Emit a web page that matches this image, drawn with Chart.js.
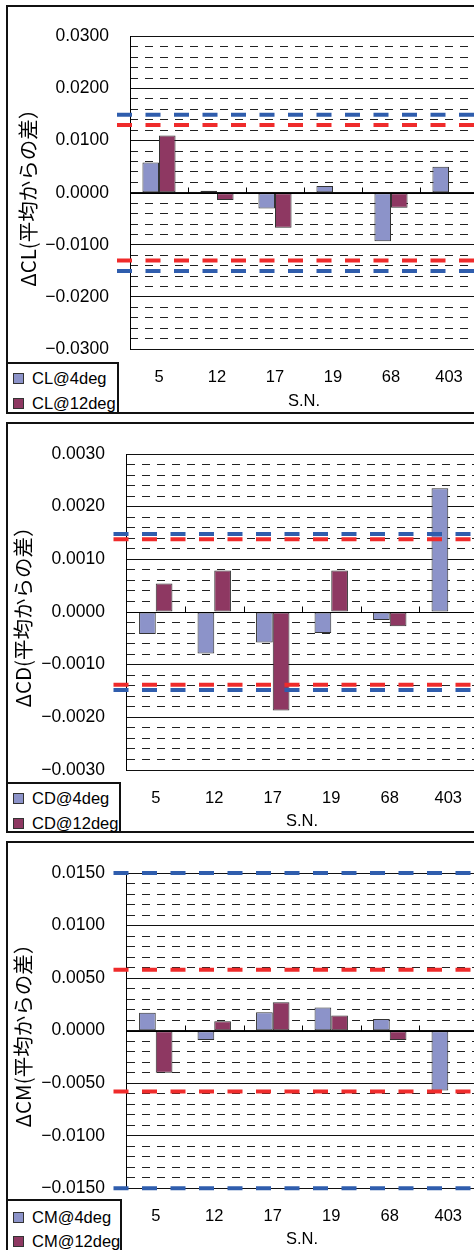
<!DOCTYPE html>
<html>
<head>
<meta charset="utf-8">
<script src="https://cdn.jsdelivr.net/npm/chart.js@4.4.1/dist/chart.umd.min.js"></script>
<style>
  html, body { margin: 0; padding: 0; width: 474px; height: 1250px; overflow: hidden; background: #fff; }
  .frame { position: absolute; left: 6px; width: 600px; border: 2px solid #111; box-sizing: border-box; }
  .panel { position: absolute; left: 0; width: 500px; }
  .legend { position: absolute; left: 6px; border: 2px solid #111; box-sizing: border-box; background: #fff;
            font-family: "Liberation Sans", Arial, sans-serif; font-size: 16.5px; color: #000; }
  .legend .item { position: absolute; left: 0; height: 20px; line-height: 20px; white-space: nowrap; }
  .legend .sw { position: absolute; left: 5px; top: 5px; width: 9px; height: 9px; border: 1px solid #333; }
  .legend .tx { position: absolute; left: 24px; top: 0; }
</style>
</head>
<body>
<script>
// categories (serial numbers)
const categories = ["5", "12", "17", "19", "68", "403"];

// ΔCL
const cl4deg = [0.0058, 0.0004, -0.0030, 0.0013, -0.0093, 0.0050];
const cl12deg = [0.0110, -0.0014, -0.0067, -0.0002, -0.0029, 0];
const clBlue = [0.015, -0.015];
const clRed = [0.013, -0.013];
const clRange = [-0.03, 0.03];
const clSteps = [0.01, 0.002];

// ΔCD
const cd4deg = [-0.00042, -0.00079, -0.00058, -0.00040, -0.00015, 0.00235];
const cd12deg = [0.00054, 0.00079, -0.00187, 0.00079, -0.00027, 0];
const cdBlue = [0.00148, -0.00148];
const cdRed = [0.00138, -0.00138];
const cdRange = [-0.003, 0.003];
const cdSteps = [0.001, 0.0002];

// ΔCM
const cm4deg = [0.0017, -0.0009, 0.00175, 0.0022, 0.0011, -0.0057];
const cm12deg = [-0.0040, 0.0009, 0.0027, 0.00145, -0.0009, 0];
const cmBlue = [0.015, -0.015];
const cmRed = [0.0058, -0.0058];
const cmRange = [-0.015, 0.015];
const cmSteps = [0.005, 0.001];

const C4 = "#8C93C9";
const C12 = "#8E3862";
const BLUE = "#2F5DAD";
const RED = "#EF2B2B";
const FONT = "'Liberation Sans', Arial, sans-serif";

const panels = [
  { title: "ΔCL(平均からの差）", names: ["CL@4deg", "CL@12deg"], a: cl4deg, b: cl12deg,
    blue: clBlue, red: clRed, range: clRange, steps: clSteps,
    top: 5, h: 409, frameH: 409, yW: 130, padTop: 22, padRight: 22, xH: 65, xPad: 19, snPad: 2.4, yPad: 21, titlePad: 16,
    lgTop: 362, lgH: 52, lgW: 113, rows: [4, 29] },
  { title: "ΔCD(平均からの差）", names: ["CD@4deg", "CD@12deg"], a: cd4deg, b: cd12deg,
    blue: cdBlue, red: cdRed, range: cdRange, steps: cdSteps,
    top: 422, h: 411, frameH: 411, yW: 126.5, padTop: 22.3, padRight: 22.5, xH: 63, xPad: 18.5, snPad: 2, yPad: 21.5, titlePad: 10.5,
    lgTop: 782, lgH: 51, lgW: 115, rows: [4.3, 29] },
  { title: "ΔCM(平均からの差）", names: ["CM@4deg", "CM@12deg"], a: cm4deg, b: cm12deg,
    blue: cmBlue, red: cmRed, range: cmRange, steps: cmSteps,
    top: 841, h: 409, frameH: 430, yW: 126.5, padTop: 22.3, padRight: 22.5, xH: 61.7, xPad: 18.5, snPad: 1, yPad: 21.5, titlePad: 10.5,
    lgTop: 1199, lgH: 60, lgW: 116, rows: [5.7, 29.7] },
];

function makeTicks(min, max, step) {
  const n = Math.round((max - min) / step);
  const t = [];
  for (let i = 0; i <= n; i++) t.push({ value: +(min + i * step).toFixed(7) });
  return t;
}
function isMajor(v, step) {
  const r = v / step;
  return Math.abs(r - Math.round(r)) < 1e-6;
}
function fmt(v) {
  if (Math.abs(v) < 1e-12) return "0.0000";
  return (v < 0 ? "\u2212" : "") + Math.abs(v).toFixed(4);
}

// threshold lines + small ticks on the zero line
const limitLines = {
  id: "limitLines",
  afterDatasetsDraw(chart, args, opts) {
    const { ctx, chartArea } = chart;
    const y = chart.scales.y;
    const y0 = Math.round(y.getPixelForValue(0)) + 0.5;
    const n = chart.data.labels.length;
    ctx.save();
    ctx.strokeStyle = "#000";
    ctx.lineWidth = 1;
    ctx.beginPath();
    ctx.moveTo(chartArea.left, y0);
    ctx.lineTo(chartArea.right, y0);
    ctx.stroke();
    for (let k = 1; k < n; k++) {
      const px = Math.round(chartArea.left + (chartArea.right - chartArea.left) * k / n) + 0.5;
      ctx.beginPath();
      ctx.moveTo(px, y0 - 6);
      ctx.lineTo(px, y0);
      ctx.stroke();
    }
    ctx.lineWidth = 4;
    ctx.setLineDash([15, 13.5]);
    opts.lines.forEach(function (l) {
      l.values.forEach(function (v) {
        const py = y.getPixelForValue(v);
        ctx.strokeStyle = l.color;
        ctx.beginPath();
        ctx.moveTo(chartArea.left - 13, py);
        ctx.lineTo(chart.width, py);
        ctx.stroke();
      });
    });
    ctx.restore();
  }
};

panels.forEach(function (p) {
  const frame = document.createElement("div");
  frame.className = "frame";
  frame.style.top = p.top + "px";
  frame.style.height = p.frameH + "px";
  document.body.appendChild(frame);

  const wrap = document.createElement("div");
  wrap.className = "panel";
  wrap.style.top = p.top + "px";
  wrap.style.height = p.h + "px";
  const canvas = document.createElement("canvas");
  canvas.width = 500;
  canvas.height = p.h;
  wrap.appendChild(canvas);
  document.body.appendChild(wrap);

  const lg = document.createElement("div");
  lg.className = "legend";
  lg.style.top = p.lgTop + "px";
  lg.style.height = p.lgH + "px";
  lg.style.width = p.lgW + "px";
  [C4, C12].forEach(function (c, i) {
    const it = document.createElement("div");
    it.className = "item";
    it.style.top = p.rows[i] + "px";
    it.innerHTML = '<span class="sw" style="background:' + c + '"></span><span class="tx">' + p.names[i] + "</span>";
    lg.appendChild(it);
  });
  document.body.appendChild(lg);

  new Chart(canvas.getContext("2d"), {
    type: "bar",
    data: {
      labels: categories,
      datasets: [
        { label: p.names[0], data: p.a, backgroundColor: C4, borderColor: "#333", borderWidth: 1,
          borderSkipped: false, barPercentage: 1, categoryPercentage: 0.571 },
        { label: p.names[1], data: p.b, backgroundColor: C12, borderColor: "#333", borderWidth: 1,
          borderSkipped: false, barPercentage: 1, categoryPercentage: 0.571 },
      ],
    },
    options: {
      responsive: false,
      animation: false,
      devicePixelRatio: 1,
      events: [],
      layout: { padding: { top: p.padTop, right: p.padRight, left: 0, bottom: 0 } },
      plugins: {
        legend: { display: false },
        tooltip: { enabled: false },
        limitLines: { lines: [{ color: BLUE, values: p.blue }, { color: RED, values: p.red }] },
      },
      scales: {
        x: {
          type: "category",
          grid: { display: false, drawTicks: false },
          border: { display: false },
          ticks: { color: "#000", font: { family: FONT, size: 16.5 }, padding: p.xPad, maxRotation: 0 },
          title: { display: true, text: "S.N.", color: "#000", font: { family: FONT, size: 16.5 },
                   padding: { top: 0, bottom: p.snPad } },
          afterFit: function (s) { s.height = p.xH; },
        },
        y: {
          min: p.range[0],
          max: p.range[1],
          grid: { color: "#111", lineWidth: 1, drawTicks: false },
          border: { display: true, color: "#000", width: 1 },
          ticks: { color: "#000", font: { family: FONT, size: 17.5 }, padding: p.yPad,
                   callback: function (v) { return fmt(v); } },
          title: { display: true, text: p.title, color: "#000",
                   font: { family: "'Noto Sans CJK JP', sans-serif", size: 20.5 },
                   padding: { top: p.titlePad, bottom: 0 } },
          afterBuildTicks: function (s) { s.ticks = makeTicks(p.range[0], p.range[1], p.steps[0]); },
          afterFit: function (s) { s.width = p.yW; },
        },
        yMinor: {
          position: "left",
          min: p.range[0],
          max: p.range[1],
          grid: {
            drawTicks: false,
            lineWidth: 1,
            color: function (ctx) {
              return ctx.tick && isMajor(ctx.tick.value, p.steps[0]) ? "rgba(0,0,0,0)" : "#222";
            },
          },
          border: { display: false, dash: [8, 7] },
          ticks: { display: false },
          afterBuildTicks: function (s) { s.ticks = makeTicks(p.range[0], p.range[1], p.steps[1]); },
          afterFit: function (s) { s.width = 0; },
        },
      },
    },
    plugins: [limitLines],
  });
});
</script>
</body>
</html>
